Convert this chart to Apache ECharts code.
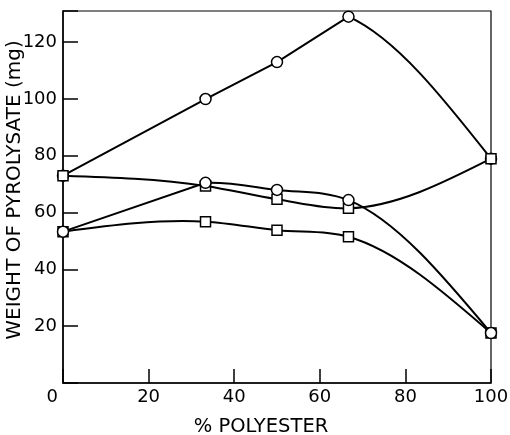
<!DOCTYPE html>
<html>
<head>
	<meta charset="utf-8">
	<title>Weight of pyrolysate vs % polyester</title>
	<script src="https://cdn.jsdelivr.net/npm/echarts@6/dist/echarts.min.js"></script>
	<style>
		html, body { margin: 0; padding: 0; background: #fff; }
	</style>
</head>
<body>
	<div id="echarts" style="width: 510px; height: 435px"></div>
	<script>
	// data
	var pctPolyester = [0, 33.3, 50, 66.7, 100];
	var topCircles = [73, 100, 113, 129, 79];
	var midCircles = [53.3, 70.5, 68, 64.4, 17.6];
	var midSquares = [73, 69.4, 64.7, 61.5, 79];
	var bottomSquares = [53.3, 56.8, 53.8, 51.5, 17.6];

	var font = 'DejaVu Sans';

	// hand drawn curves: straight = segments drawn as plain lines
	var curves = [
		{ values: topCircles, straight: [0, 1, 2], tangent: 'central' },
		{ values: midSquares, straight: [], tangent: 'bessel' },
		{ values: bottomSquares, straight: [], tangent: 'bessel' },
		{ values: midCircles, straight: [0], tangent: 'bessel' }
	];

	// tangent at each point, natural ends
	function slopes(xs, ys, kind) {
		var n = xs.length, d = [], s = [], h = [];
		for (var i = 0; i < n - 1; i++) {
			h[i] = xs[i + 1] - xs[i];
			s[i] = (ys[i + 1] - ys[i]) / h[i];
		}
		for (i = 1; i < n - 1; i++) {
			if (kind === 'bessel') {
				d[i] = (h[i] * s[i - 1] + h[i - 1] * s[i]) / (h[i - 1] + h[i]);
			} else {
				d[i] = (h[i - 1] * s[i - 1] + h[i] * s[i]) / (h[i - 1] + h[i]);
			}
		}
		d[0] = (3 * s[0] - d[1]) / 2;
		d[n - 1] = (3 * s[n - 2] - d[n - 2]) / 2;
		return d;
	}

	function renderCurve(params, api) {
		var c = curves[params.dataIndex];
		var xs = pctPolyester, ys = c.values;
		var d = slopes(xs, ys, c.tangent);
		var p = api.coord([xs[0], ys[0]]);
		var path = 'M' + p[0] + ' ' + p[1];
		for (var i = 0; i < xs.length - 1; i++) {
			var end = api.coord([xs[i + 1], ys[i + 1]]);
			if (c.straight.indexOf(i) >= 0) {
				path += 'L' + end[0] + ' ' + end[1];
				continue;
			}
			var h = (xs[i + 1] - xs[i]) / 3;
			var c1 = api.coord([xs[i] + h, ys[i] + d[i] * h]);
			var c2 = api.coord([xs[i + 1] - h, ys[i + 1] - d[i + 1] * h]);
			path += 'C' + c1[0] + ' ' + c1[1] + ' ' + c2[0] + ' ' + c2[1] + ' ' + end[0] + ' ' + end[1];
		}
		return {
			type: 'path',
			shape: { pathData: path },
			style: { fill: null, stroke: '#000', lineWidth: 2 }
		};
	}

	function markers(values, symbol) {
		return {
			type: 'scatter',
			symbol: symbol,
			symbolSize: symbol === 'rect' ? 10 : 11,
			z: 5,
			itemStyle: { color: '#fff', borderColor: '#000', borderWidth: 1.5, opacity: 1 },
			data: values.map(function (v, i) { return [pctPolyester[i], v]; })
		};
	}

	var myChart = echarts.init(document.getElementById('echarts'));
	var option = {
		animation: false,
		grid: {
			show: true, left: 63, right: 19, top: 11, bottom: 52,
			outerBoundsMode: 'none',
			borderColor: '#000', borderWidth: 1.2
		},
		xAxis: {
			type: 'value', min: 0, max: 100, interval: 20,
			name: '% POLYESTER', nameLocation: 'middle', nameGap: 34,
			nameTextStyle: { fontFamily: font, fontSize: 19.5, color: '#000', padding: [0, 32, 0, 0] },
			axisLine: { lineStyle: { color: '#000', width: 1.5 } },
			axisTick: { inside: true, length: 14, lineStyle: { color: '#000', width: 1.5 } },
			splitLine: { show: false },
			axisLabel: {
				margin: 5, fontFamily: font, fontSize: 18, color: '#000',
				alignMinLabel: 'right',
				formatter: function (v) { return v === 0 ? '{o|0}' : String(v); },
				rich: { o: { fontFamily: font, fontSize: 18, color: '#000', padding: [0, 5, 0, 0] } }
			}
		},
		yAxis: {
			type: 'value', min: 0, max: 131, interval: 20,
			name: 'WEIGHT OF PYROLYSATE (mg)', nameLocation: 'middle', nameGap: 38,
			nameMoveOverlap: false,
			nameTextStyle: { fontFamily: font, fontSize: 20, color: '#000', padding: [0, 0, 0, 14] },
			axisLine: { lineStyle: { color: '#000', width: 1.5 } },
			axisTick: { inside: true, length: 15, lineStyle: { color: '#000', width: 1.5 } },
			splitLine: { show: false },
			axisLabel: {
				margin: 6, fontFamily: font, fontSize: 18, color: '#000',
				formatter: function (v) { return (v > 0 && v % 20 === 0) ? String(v) : ''; }
			}
		},
		series: [
			{
				type: 'custom',
				renderItem: renderCurve,
				z: 2,
				data: curves.map(function (c) { return [pctPolyester[0], c.values[0]]; })
			},
			markers(topCircles, 'circle'),
			markers(midSquares, 'rect'),
			markers(bottomSquares, 'rect'),
			markers(midCircles, 'circle')
		]
	};
	myChart.setOption(option);
	</script>
</body>
</html>
